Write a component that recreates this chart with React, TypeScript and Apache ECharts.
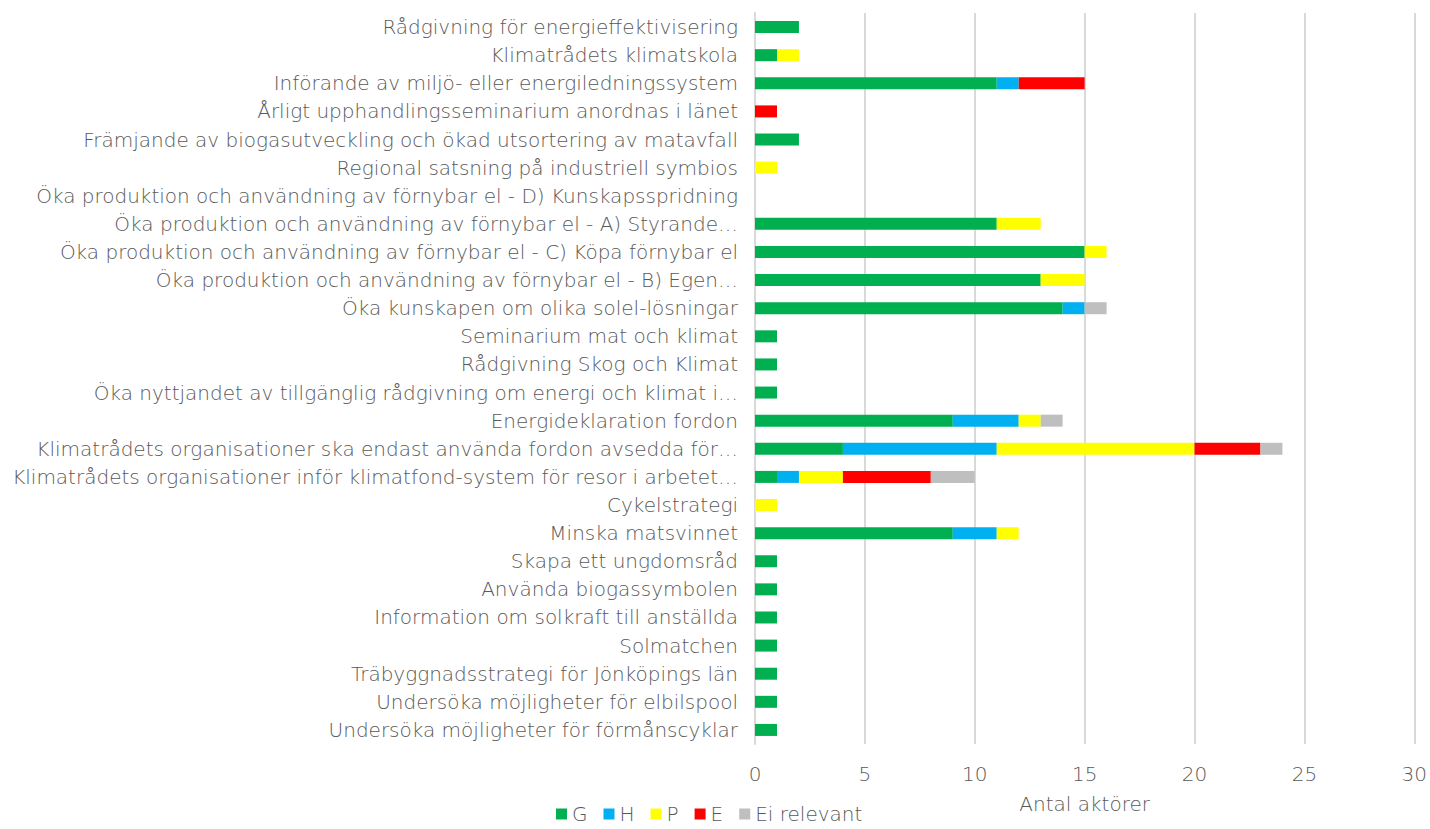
import React, { useEffect, useRef } from "react";
import * as echarts from "echarts";

const categories = [
  "Rådgivning för energieffektivisering",
  "Klimatrådets klimatskola",
  "Införande av miljö- eller energiledningssystem",
  "Årligt upphandlingsseminarium anordnas i länet",
  "Främjande av biogasutveckling och ökad utsortering av matavfall",
  "Regional satsning på industriell symbios",
  "Öka produktion och användning av förnybar el - D) Kunskapsspridning",
  "Öka produktion och användning av förnybar el - A) Styrande…",
  "Öka produktion och användning av förnybar el - C) Köpa förnybar el",
  "Öka produktion och användning av förnybar el - B) Egen…",
  "Öka kunskapen om olika solel-lösningar",
  "Seminarium mat och klimat",
  "Rådgivning Skog och Klimat",
  "Öka nyttjandet av tillgänglig rådgivning om energi och klimat i…",
  "Energideklaration fordon",
  "Klimatrådets organisationer ska endast använda fordon avsedda för…",
  "Klimatrådets organisationer inför klimatfond-system för resor i arbetet…",
  "Cykelstrategi",
  "Minska matsvinnet",
  "Skapa ett ungdomsråd",
  "Använda biogassymbolen",
  "Information om solkraft till anställda",
  "Solmatchen",
  "Träbyggnadsstrategi för Jönköpings län",
  "Undersöka möjligheter för elbilspool",
  "Undersöka möjligheter för förmånscyklar",
];

const valuesG = [2, 1, 11, 0, 2, 0, 0, 11, 15, 13, 14, 1, 1, 1, 9, 4, 1, 0, 9, 1, 1, 1, 1, 1, 1, 1];
const valuesH = [0, 0, 1, 0, 0, 0, 0, 0, 0, 0, 1, 0, 0, 0, 3, 7, 1, 0, 2, 0, 0, 0, 0, 0, 0, 0];
const valuesP = [0, 1, 0, 0, 0, 1, 0, 2, 1, 2, 0, 0, 0, 0, 1, 9, 2, 1, 1, 0, 0, 0, 0, 0, 0, 0];
const valuesE = [0, 0, 3, 1, 0, 0, 0, 0, 0, 0, 0, 0, 0, 0, 0, 3, 4, 0, 0, 0, 0, 0, 0, 0, 0, 0];
const valuesEi = [0, 0, 0, 0, 0, 0, 0, 0, 0, 0, 1, 0, 0, 0, 1, 1, 2, 0, 0, 0, 0, 0, 0, 0, 0, 0];

const seriesNames = ["G", "H", "P", "E", "Ei relevant"];
const seriesColors = ["#00B050", "#00B0F0", "#FFFF00", "#FF0000", "#BFBFBF"];
const xTicks = { min: 0, max: 30, interval: 5 };
const xAxisTitle = "Antal aktörer";

const FONT = "'DejaVu Sans', sans-serif";
const TEXT = "#595959";
const FS = 20;
const FW = 200;

export default function App() {
  const ref = useRef<HTMLDivElement>(null);
  useEffect(() => {
    if (!ref.current) return;
    const chart = echarts.init(ref.current, undefined, { renderer: "svg" });
    const all = [valuesG, valuesH, valuesP, valuesE, valuesEi];
    chart.setOption({
      animation: false,
      textStyle: { fontFamily: FONT },
      grid: { left: 755, right: 15, top: 13, bottom: 85, containLabel: false },
      legend: {
        top: 804,
        left: 551,
        padding: [0, 5],
        itemWidth: 11,
        itemHeight: 11,
        itemGap: 16,
        icon: "rect",
        textStyle: { fontFamily: FONT, fontSize: FS, fontWeight: FW, color: TEXT },
        data: seriesNames,
      },
      xAxis: {
        type: "value",
        min: xTicks.min,
        max: xTicks.max,
        interval: xTicks.interval,
        name: xAxisTitle,
        nameLocation: "middle",
        nameGap: 50,
        nameTextStyle: { fontFamily: FONT, fontSize: FS, fontWeight: FW, color: TEXT },
        axisLabel: { fontFamily: FONT, fontSize: FS, fontWeight: FW, color: TEXT, margin: 20 },
        axisLine: { show: false },
        axisTick: { show: false },
        splitLine: { lineStyle: { color: "#D9D9D9", width: 2 } },
      },
      yAxis: {
        type: "category",
        inverse: true,
        data: categories,
        axisLabel: { fontFamily: FONT, fontSize: FS, fontWeight: FW, color: TEXT, margin: 17, interval: 0 },
        axisLine: { show: true, lineStyle: { color: "#D9D9D9", width: 2 } },
        axisTick: { show: false },
      },
      series: seriesNames.map((n, i) => ({
        name: n,
        type: "bar",
        stack: "total",
        barWidth: 12,
        itemStyle: { color: seriesColors[i] },
        data: all[i].map((v) => (v === 0 ? null : v)),
      })),
    });
    return () => chart.dispose();
  }, []);
  return <div ref={ref} style={{ position: "absolute", left: 0, top: 0, width: 1430, height: 829 }} />;
}
